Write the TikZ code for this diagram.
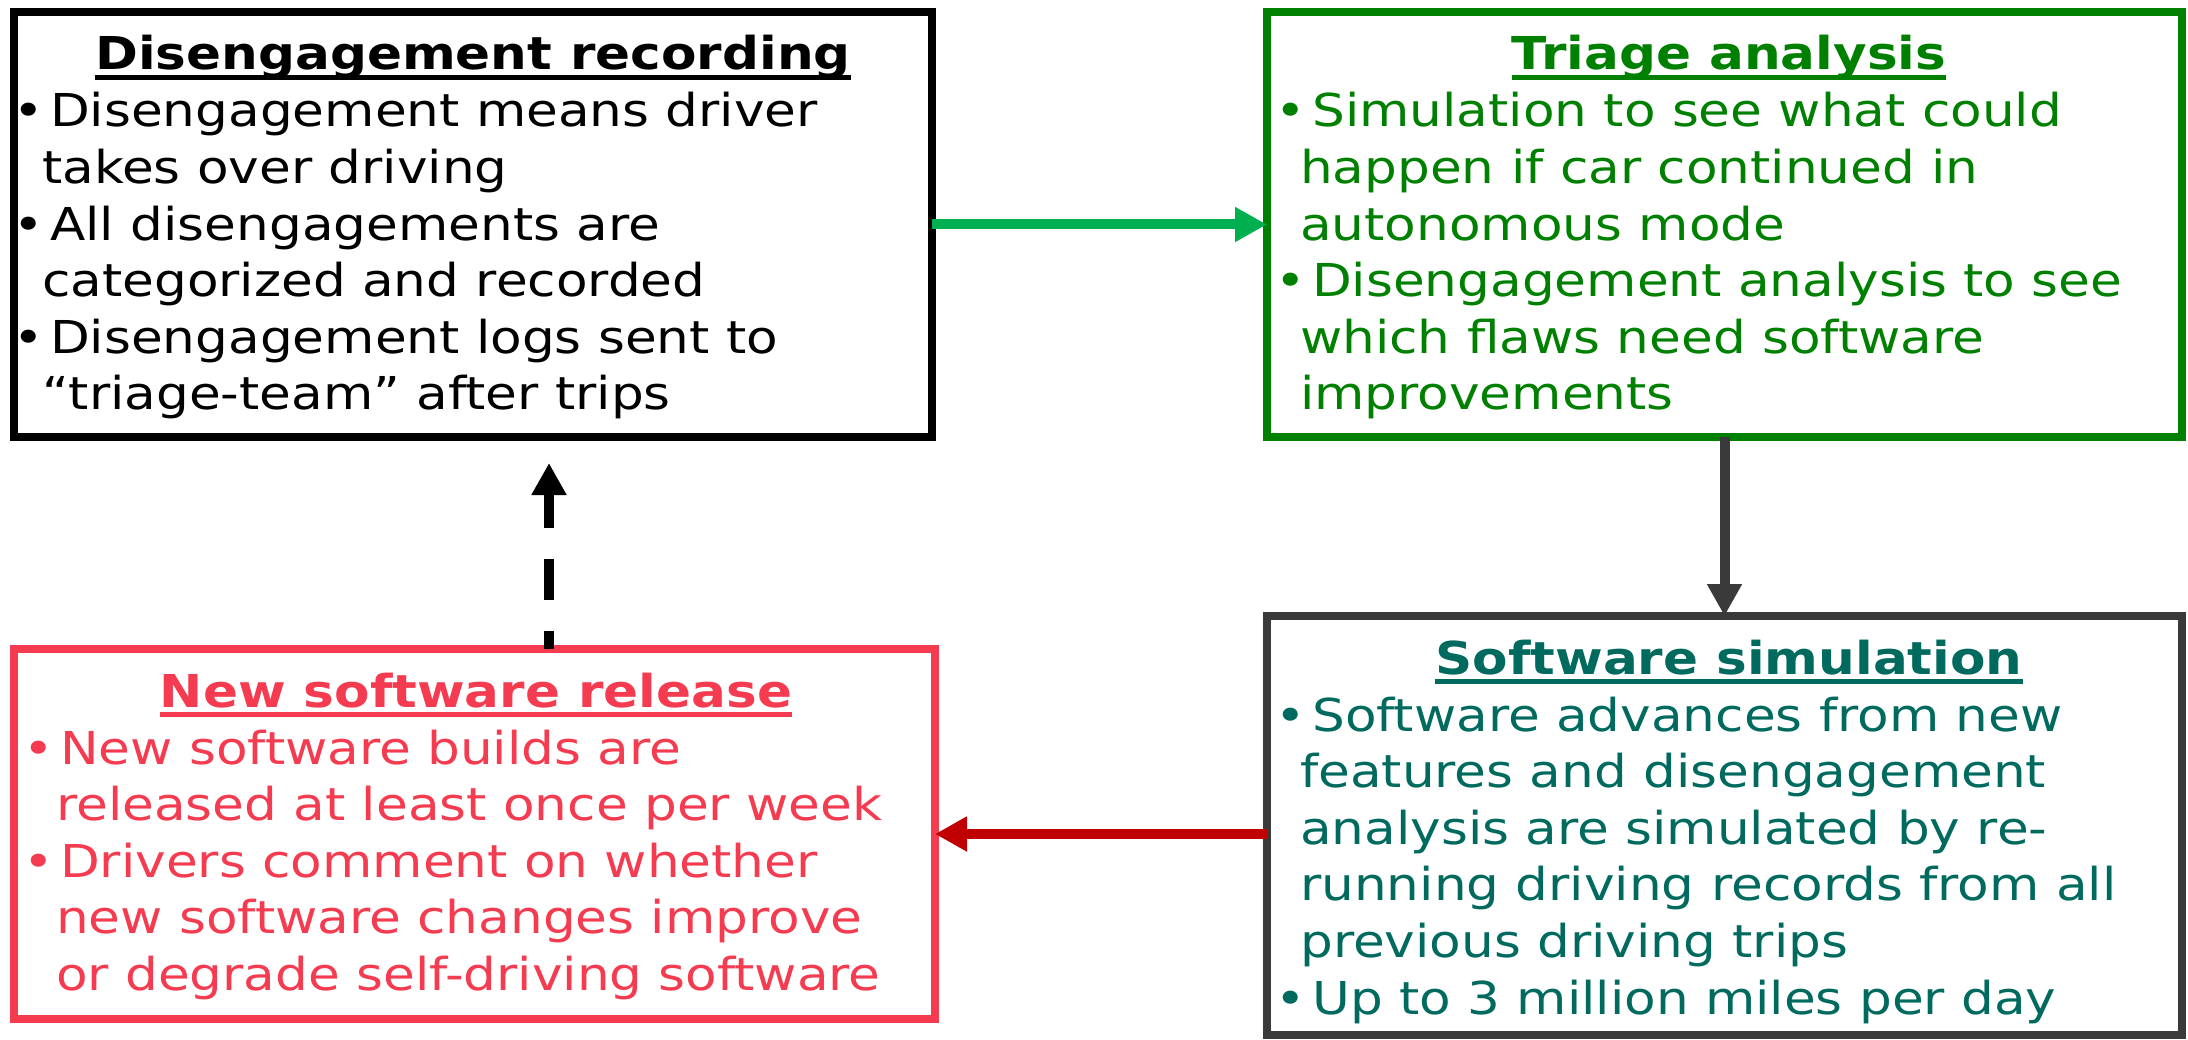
\documentclass[tikz,border=0pt]{standalone}
\usepackage{fontspec}
\setmainfont{DejaVu Sans}[FakeStretch=1.14]
\usetikzlibrary{arrows.meta}
\definecolor{boxgreen}{HTML}{008000}
\definecolor{arrgreen}{HTML}{00B050}
\definecolor{tealtxt}{HTML}{006A5E}
\definecolor{dgray}{HTML}{3A3A3A}
\definecolor{pinkred}{HTML}{F43B50}
\definecolor{darkred}{HTML}{C00000}
\newcommand\bulline[2]{\hbox{\kern#1\llap{•\kern6pt}#2}}
\newcommand\contline[1]{\hbox{#1}}
\begin{document}
\begin{tikzpicture}[x=1pt,y=-1pt,
  box/.style={draw, line width=8pt, rectangle, inner sep=0pt, outer sep=0pt},
  ttl/.style={anchor=base, inner sep=0pt, font=\fontsize{45.3}{56.6}\selectfont\bfseries},
  body/.style={anchor=base west, inner sep=0pt, font=\fontsize{45.3}{56.6}\selectfont},
  arr/.style={line width=10pt, -{Triangle[length=32pt,width=33pt]}},
  uline/.style={line width=4.5pt}
]
\useasboundingbox (0,0) rectangle (2188,1040);

% boxes
\node[box, draw=black, minimum width=918pt, minimum height=425pt] (b1) at (473,224.5) {};
\node[box, draw=boxgreen, minimum width=915pt, minimum height=425pt] (b2) at (1724.5,224.5) {};
\node[box, draw=dgray, minimum width=915pt, minimum height=419pt] (b3) at (1724.5,825.5) {};
\node[box, draw=pinkred, minimum width=921pt, minimum height=370pt] (b4) at (474.5,834) {};

% box 1
\node[ttl, text=black] (t1) at (473,70) {Disengagement recording};
\draw[uline, black] ([yshift=-7.5pt]t1.base west) -- ([yshift=-7.5pt]t1.base east);
\node[body, text=black] (x1) at (42,127) {\vtop{%
  \bulline{8pt}{Disengagement means driver}
  \contline{takes over driving}
  \bulline{8pt}{All disengagements are}
  \contline{categorized and recorded}
  \bulline{8pt}{Disengagement logs sent to}
  \contline{“triage-team” after trips}}};

% box 2
\node[ttl, text=boxgreen] (t2) at (1729,70) {Triage analysis};
\draw[uline, boxgreen] ([yshift=-7.5pt]t2.base west) -- ([yshift=-7.5pt]t2.base east);
\node[body, text=boxgreen] (x2) at (1300,127) {\vtop{%
  \bulline{12pt}{Simulation to see what could}
  \contline{happen if car continued in}
  \contline{autonomous mode}
  \bulline{12pt}{Disengagement analysis to see}
  \contline{which flaws need software}
  \contline{improvements}}};

% box 3
\node[ttl, text=tealtxt] (t3) at (1729,674) {Software simulation};
\draw[uline, tealtxt] ([yshift=-7.5pt]t3.base west) -- ([yshift=-7.5pt]t3.base east);
\node[body, text=tealtxt] (x3) at (1300,731) {\vtop{%
  \bulline{12pt}{Software advances from new}
  \contline{features and disengagement}
  \contline{analysis are simulated by re-}
  \contline{running driving records from all}
  \contline{previous driving trips}
  \bulline{12pt}{Up to 3 million miles per day}}};

% box 4
\node[ttl, text=pinkred] (t4) at (476,707) {New software release};
\draw[uline, pinkred] ([yshift=-7.5pt]t4.base west) -- ([yshift=-7.5pt]t4.base east);
\node[body, text=pinkred] (x4) at (56,764) {\vtop{%
  \bulline{4pt}{New software builds are}
  \contline{released at least once per week}
  \bulline{4pt}{Drivers comment on whether}
  \contline{new software changes improve}
  \contline{or degrade self-driving software}}};

% connectors
\coordinate (dx) at (549,0);
\draw[arr, arrgreen] (b1.east) -- (b2.west);
\draw[arr, dgray] (b2.south) -- (b3.north);
\draw[arr, darkred] (b3.west |- b4.east) -- (b4.east);
\draw[arr, black, dash pattern=on 41pt off 31pt, dash phase=23pt, shorten >=26pt] (b4.north -| dx) -- (b1.south -| dx);
\end{tikzpicture}
\end{document}
